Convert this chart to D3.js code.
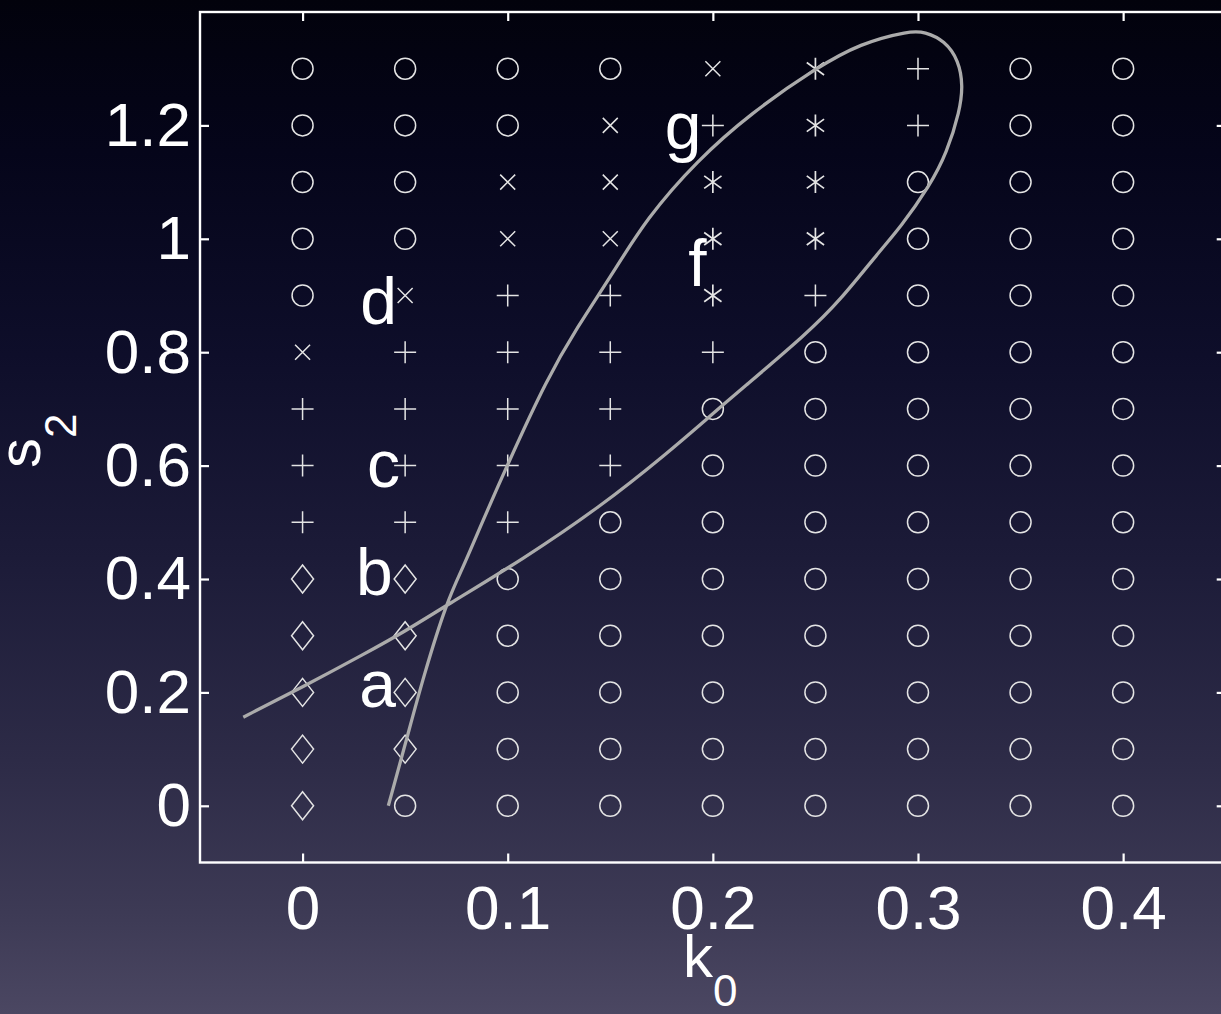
<!DOCTYPE html>
<html>
<head>
<meta charset="utf-8">
<script src="https://cdn.jsdelivr.net/npm/d3@7"></script>
<style>
  html, body { margin: 0; padding: 0; background: #0a0a1e; }
  svg { display: block; }
  text { font-family: "Liberation Sans", Arial, Helvetica, sans-serif; fill: #ffffff; }
</style>
</head>
<body>
<script>
// Parameter grid: k0 along x, s2 along y
const k0Values = [0, 0.05, 0.1, 0.15, 0.2, 0.25, 0.3, 0.35, 0.4];
const s2Values = [0, 0.1, 0.2, 0.3, 0.4, 0.5, 0.6, 0.7, 0.8, 0.9, 1.0, 1.1, 1.2, 1.3];

// Regime found at each grid point, one string per k0 column, s2 rising left to right.
// o = circle, d = diamond, + = plus, x = cross, * = asterisk
const regimeColumns = [
  "ddddd+++xooooo",
  "odddd++++xoooo",
  "ooooo+++++xxoo",
  "oooooo++++xxxo",
  "oooooooo+***+x",
  "ooooooooo+****",
  "oooooooooooo++",
  "oooooooooooooo",
  "oooooooooooooo"
];

// Boundary curve (k0, s2): lower branch up to the loop, around, and back down
const curveK0 = [-0.0289, 0.0, 0.0305, 0.0501, 0.0695, 0.1075, 0.145, 0.1777, 0.2001, 0.2132,
  0.2459, 0.262, 0.2815, 0.2913, 0.3058, 0.3141, 0.3204, 0.3219, 0.3199, 0.3131, 0.3033, 0.296,
  0.2717, 0.2507, 0.2181, 0.1923, 0.1679, 0.1499, 0.1338, 0.1192, 0.0997, 0.0865, 0.0783,
  0.0705, 0.0588, 0.051, 0.0418];
const curveS2 = [0.1563, 0.2095, 0.2685, 0.3080, 0.3520, 0.4350, 0.5270, 0.6215, 0.692, 0.7325,
  0.833, 0.8911, 0.9792, 1.0197, 1.0938, 1.1519, 1.2259, 1.27, 1.314, 1.3493, 1.3651, 1.3669,
  1.3444, 1.3021, 1.2206, 1.1378, 1.0374, 0.9316, 0.8435, 0.7537, 0.6004, 0.4911, 0.4206,
  0.3625, 0.2268, 0.121, 0.0];

// Case letters (text end, baseline) in data units
const labelText = ["a", "b", "c", "d", "f", "g"];
const labelK0 = [0.0455, 0.044, 0.0475, 0.046, 0.197, 0.1945];
const labelS2 = [0.174, 0.371, 0.5616, 0.8506, 0.9176, 1.159];

const xTicks = [0, 0.1, 0.2, 0.3, 0.4];
const yTicks = [0, 0.2, 0.4, 0.6, 0.8, 1.0, 1.2];

const W = 1221, H = 1014;
const plotLeft = 200, plotRight = 1225.7, plotTop = 12, plotBottom = 862.5;

const svg = d3.select("body").append("svg").attr("width", W).attr("height", H);

const defs = svg.append("defs");
const grad = defs.append("linearGradient").attr("id", "bg")
  .attr("x1", 0).attr("y1", 0).attr("x2", 0).attr("y2", 1);
[[0, "#02020c"], [0.15, "#05051a"], [0.35, "#0e0e2a"], [0.55, "#1c1b38"],
 [0.75, "#2d2b47"], [0.9, "#3d3a55"], [1, "#4b4762"]].forEach(([o, c]) =>
  grad.append("stop").attr("offset", o).attr("stop-color", c));
svg.append("rect").attr("width", W).attr("height", H).attr("fill", "url(#bg)");

const x = d3.scaleLinear().domain([-0.05, 0.45]).range([plotLeft, plotRight]);
const y = d3.scaleLinear().domain([-0.1, 1.4]).range([plotBottom, plotTop]);

const fmt = d3.format("~g");
const tickLen = 9;

// Axes with inward ticks on all four sides
const axisG = svg.append("g");
axisG.append("g").attr("transform", `translate(0,${plotBottom})`)
  .call(d3.axisBottom(x).tickValues(xTicks).tickSize(-tickLen).tickPadding(22).tickFormat(fmt));
axisG.append("g").attr("transform", `translate(0,${plotTop})`)
  .call(d3.axisTop(x).tickValues(xTicks).tickSize(-tickLen).tickFormat(""));
axisG.append("g").attr("transform", `translate(${plotLeft},0)`)
  .call(d3.axisLeft(y).tickValues(yTicks).tickSize(-tickLen).tickPadding(9).tickFormat(fmt));
axisG.append("g").attr("transform", `translate(${plotRight},0)`)
  .call(d3.axisRight(y).tickValues(yTicks).tickSize(-tickLen).tickFormat(""));
axisG.selectAll(".domain").remove();
axisG.selectAll(".tick line").attr("stroke", "#ffffff").attr("stroke-width", 2.2);
axisG.selectAll(".tick text")
  .attr("fill", "#ffffff")
  .style("font-family", '"Liberation Sans", Arial, sans-serif')
  .style("font-size", "62px");

// Frame
svg.append("rect")
  .attr("x", plotLeft).attr("y", plotTop)
  .attr("width", plotRight - plotLeft).attr("height", plotBottom - plotTop)
  .attr("fill", "none").attr("stroke", "#ffffff").attr("stroke-width", 2.4);

// Marker shapes
function markerPath(code) {
  const p = d3.path();
  if (code === "o") {
    p.moveTo(10.5, 0); p.arc(0, 0, 10.5, 0, 2 * Math.PI);
  } else if (code === "d") {
    p.moveTo(0, -14); p.lineTo(11, 0); p.lineTo(0, 14); p.lineTo(-11, 0); p.closePath();
  } else if (code === "+") {
    p.moveTo(-11, 0); p.lineTo(11, 0); p.moveTo(0, -11); p.lineTo(0, 11);
  } else if (code === "x") {
    p.moveTo(-7.5, -7.5); p.lineTo(7.5, 7.5); p.moveTo(-7.5, 7.5); p.lineTo(7.5, -7.5);
  } else if (code === "*") {
    p.moveTo(0, -11); p.lineTo(0, 11);
    const dx = 10 * Math.cos(Math.PI / 6), dy = 10 * Math.sin(Math.PI / 6) * 1.25;
    p.moveTo(-dx, -dy); p.lineTo(dx, dy); p.moveTo(-dx, dy); p.lineTo(dx, -dy);
  }
  return p.toString();
}

const points = [];
k0Values.forEach((k, i) => {
  s2Values.forEach((s, j) => points.push({ k, s, code: regimeColumns[i][j] }));
});

svg.append("g").selectAll("path")
  .data(points)
  .join("path")
  .attr("transform", d => `translate(${x(d.k)},${y(d.s)})`)
  .attr("d", d => markerPath(d.code))
  .attr("fill", "none")
  .attr("stroke", "#e4e4e4")
  .attr("stroke-width", d => d.code === "*" ? 1.7 : 1.5);

// Boundary curve, smoothed through the sampled points
const curvePts = curveK0.map((k, i) => [k, curveS2[i]]);
svg.append("path")
  .datum(curvePts)
  .attr("d", d3.line().x(d => x(d[0])).y(d => y(d[1])).curve(d3.curveBasis))
  .attr("fill", "none")
  .attr("stroke", "#ababab")
  .attr("stroke-width", 3.3)
  .attr("stroke-linecap", "butt");

// Case letters
svg.append("g").selectAll("text")
  .data(labelText)
  .join("text")
  .attr("x", (d, i) => x(labelK0[i]))
  .attr("y", (d, i) => y(labelS2[i]))
  .attr("text-anchor", "end")
  .style("font-size", "66px")
  .text(d => d);

// Axis titles
const xl = svg.append("text").attr("x", 683).attr("y", 977).style("font-size", "60px");
xl.append("tspan").text("k");
xl.append("tspan").attr("dy", 29).style("font-size", "44px").text("0");

const yl = svg.append("text")
  .attr("transform", "translate(40,468) rotate(-90)")
  .style("font-size", "60px");
yl.append("tspan").text("s");
yl.append("tspan").attr("dy", 36).style("font-size", "44px").text("2");
</script>
</body>
</html>
